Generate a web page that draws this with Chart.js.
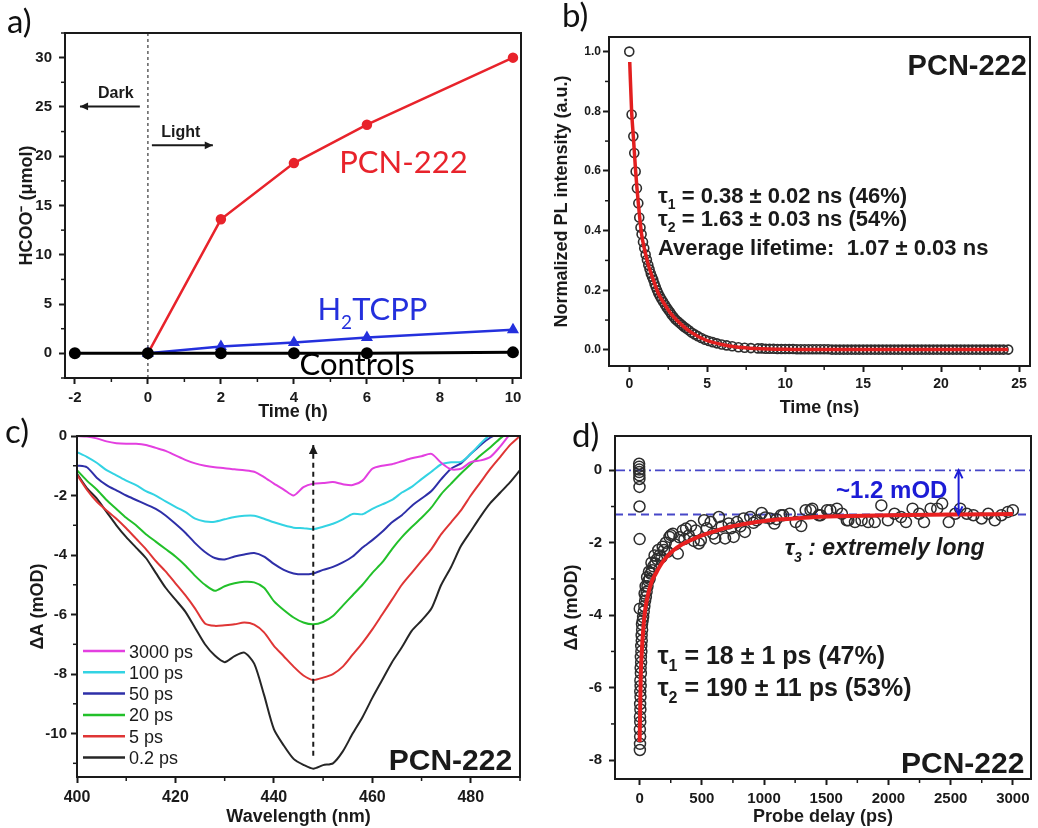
<!DOCTYPE html>
<html>
<head>
<meta charset="utf-8">
<script src="https://cdn.jsdelivr.net/npm/chart.js@4.4.1/dist/chart.umd.min.js"></script>
<style>
  html, body { margin: 0; padding: 0; background: #fff; }
  #page { position: relative; width: 1038px; height: 828px; overflow: hidden; }
  #page canvas { position: absolute; left: 0; top: 0; }
  .tag { position: absolute; font-family: Lato, "Open Sans", sans-serif; font-size: 33px; line-height: 1; color: #111; }
</style>
</head>
<body>
<div id="page">
  <canvas id="chartA" width="1038" height="828"></canvas>
  <canvas id="chartB" width="1038" height="828"></canvas>
  <canvas id="chartC" width="1038" height="828"></canvas>
  <canvas id="chartD" width="1038" height="828"></canvas>
  <div class="tag" style="left:7px;top:4px">a)</div>
  <div class="tag" style="left:562px;top:-2px">b)</div>
  <div class="tag" style="left:5px;top:414px">c)</div>
  <div class="tag" style="left:572px;top:418px">d)</div>
</div>
<script>
// ---- a) formate produced vs time
const pcnTime = [0, 2, 4, 6, 10];
const pcnFormate = [0, 13.6, 19.3, 23.2, 30.0];
const tcppTime = [0, 2, 4, 6, 10];
const tcppFormate = [0, 0.7, 1.1, 1.6, 2.4];
const controlTime = [-2, 0, 2, 4, 6, 10];
const controlFormate = [0, 0, 0, 0, 0, 0.1];
const aTicksX = [-2, 0, 2, 4, 6, 8, 10];
const aTicksY = [0, 5, 10, 15, 20, 25, 30];

// ---- b) PL decay
const plTime = [0, 0.15, 0.26, 0.32, 0.41, 0.49, 0.58, 0.64, 0.72, 0.79, 0.88, 0.96, 1.05, 1.13, 1.22,
  1.3, 1.38, 1.46, 1.54, 1.62, 1.7, 1.78, 1.86, 1.96, 2.06, 2.17, 2.29, 2.4, 2.51, 2.62, 2.72, 2.84,
  2.97, 3.1, 3.23, 3.36, 3.5, 3.66, 3.82, 4.0, 4.2, 4.4, 4.62, 4.86, 5.1, 5.35, 5.62, 5.93, 6.25, 6.6,
  7.0, 7.4, 7.8, 8.25, 8.5, 8.75, 9, 9.25, 9.5, 9.75, 10, 10.25, 10.5, 10.75, 11, 11.25, 11.5, 11.75,
  12, 12.25, 12.5, 12.75, 13, 13.25, 13.5, 13.75, 14, 14.25, 14.5, 14.75, 15, 15.25, 15.5, 15.75, 16,
  16.25, 16.5, 16.75, 17, 17.25, 17.5, 17.75, 18, 18.25, 18.5, 18.75, 19, 19.25, 19.5, 19.75, 20,
  20.25, 20.5, 20.75, 21, 21.25, 21.5, 21.75, 22, 22.25, 22.5, 22.75, 23, 23.25, 23.5, 23.75, 24, 24.3];
const plIntensity = [1.0, 0.789, 0.716, 0.66, 0.598, 0.542, 0.492, 0.444, 0.41, 0.388, 0.362, 0.341,
  0.32, 0.302, 0.285, 0.27, 0.256, 0.245, 0.235, 0.222, 0.211, 0.2, 0.19, 0.18, 0.171, 0.161, 0.151,
  0.142, 0.134, 0.126, 0.118, 0.11, 0.102, 0.096, 0.09, 0.084, 0.078, 0.072, 0.066, 0.058, 0.052,
  0.046, 0.04, 0.034, 0.03, 0.026, 0.022, 0.018, 0.015, 0.012, 0.009, 0.007, 0.006, 0.005, 0.005,
  0.004, 0.004, 0.004, 0.003, 0.003, 0.003, 0.003, 0.003, 0.002, 0.002, 0.002, 0.002, 0.002, 0.002,
  0.002, 0.002, 0.002, 0.001, 0.001, 0.001, 0.001, 0.001, 0.001, 0.001, 0.001, 0.001, 0.001, 0.001,
  0.001, 0.001, 0.001, 0.001, 0.001, 0.001, 0.001, 0.001, 0.001, 0.001, 0.001, 0.001, 0.001, 0.001,
  0.001, 0.001, 0.001, 0.001, 0.001, 0.001, 0.001, 0.001, 0.001, 0.001, 0.001, 0.001, 0.001, 0.001,
  0.001, 0.001, 0.001, 0.001, 0.001, 0.001, 0.001, 0.001, 0.001];
const plFitTime = [0.03, 0.15, 0.26, 0.41, 0.58, 0.79, 0.96, 1.22, 1.54, 1.86, 2.29, 2.72, 3.36, 4.0,
  4.86, 5.93, 7.0, 8.06, 10, 13, 17, 21, 24.3];
const plFit = [0.965, 0.8, 0.716, 0.598, 0.492, 0.388, 0.341, 0.285, 0.235, 0.19, 0.151, 0.118, 0.084,
  0.058, 0.034, 0.018, 0.009, 0.005, 0.002, 0.001, 0.001, 0.001, 0.001];
const bTicksX = [0, 5, 10, 15, 20, 25];
const bTicksY = [0, 0.2, 0.4, 0.6, 0.8, 1.0];

// ---- c) transient spectra
const wavelength = [400, 402, 404, 406, 408, 410, 412, 414, 416, 418, 420, 422, 424, 426, 428, 430,
  432, 434, 436, 438, 440, 442, 444, 446, 448, 450, 452, 454, 456, 458, 460, 462, 464, 466, 468, 470,
  472, 474, 476, 478, 480, 482, 484, 486, 488, 490];
const dA3000ps = [0, -0.02, -0.08, -0.18, -0.24, -0.26, -0.26, -0.3, -0.4, -0.5, -0.65, -0.8, -0.92,
  -1.0, -1.05, -1.08, -1.12, -1.15, -1.2, -1.38, -1.6, -1.8, -2.0, -1.72, -1.6, -1.58, -1.55, -1.62,
  -1.65, -1.5, -1.1, -1.0, -0.95, -0.85, -0.75, -0.68, -0.6, -0.9, -1.12, -1.1, -0.88, -0.82, -0.7,
  -0.35, 0.05, 0.2];
const dA100ps = [-0.54, -0.7, -0.9, -1.15, -1.32, -1.5, -1.65, -1.85, -2.0, -2.2, -2.38, -2.55, -2.78,
  -2.87, -2.88, -2.8, -2.72, -2.68, -2.68, -2.78, -2.9, -3.0, -3.08, -3.1, -3.13, -3.05, -2.95, -2.8,
  -2.62, -2.63, -2.45, -2.3, -2.15, -1.9, -1.71, -1.45, -1.2, -0.95, -0.88, -0.87, -0.6, -0.25, 0.05,
  0.2, 0.3, 0.4];
const dA50ps = [-0.99, -1.05, -1.4, -1.65, -1.83, -2.0, -2.15, -2.3, -2.45, -2.67, -2.95, -3.25, -3.6,
  -3.9, -4.1, -4.15, -4.05, -3.98, -3.93, -4.05, -4.3, -4.5, -4.62, -4.65, -4.62, -4.5, -4.4, -4.25,
  -4.05, -3.75, -3.5, -3.22, -2.9, -2.66, -2.35, -2.1, -1.85, -1.45, -1.1, -0.92, -0.6, -0.3, -0.05,
  0.1, 0.2, 0.3];
const dA20ps = [-1.15, -1.5, -1.8, -2.15, -2.45, -2.75, -3.0, -3.3, -3.55, -3.8, -4.05, -4.35, -4.7,
  -5.0, -5.2, -5.05, -4.95, -4.9, -4.92, -5.1, -5.55, -5.85, -6.1, -6.27, -6.33, -6.25, -6.05, -5.7,
  -5.35, -5.0, -4.6, -4.25, -3.8, -3.4, -3.06, -2.75, -2.4, -1.95, -1.6, -1.26, -0.95, -0.65, -0.38,
  -0.08, 0.15, 0.3];
const dA5ps = [-1.3, -1.8, -2.2, -2.5, -2.78, -3.1, -3.45, -3.8, -4.2, -4.55, -4.95, -5.35, -5.8, -6.3,
  -6.38, -6.36, -6.33, -6.27, -6.34, -6.6, -7.05, -7.4, -7.75, -8.05, -8.2, -8.12, -8.0, -7.75, -7.35,
  -6.95, -6.5, -6.0, -5.5, -5.0, -4.6, -4.2, -3.8, -3.3, -2.9, -2.5, -2.0, -1.55, -1.1, -0.7, -0.3, 0];
const dA02ps = [-1.27, -1.75, -2.1, -2.55, -3.0, -3.4, -3.75, -4.1, -4.6, -5.1, -5.5, -5.9, -6.45, -7.0,
  -7.38, -7.6, -7.4, -7.28, -7.65, -8.7, -9.85, -10.4, -10.85, -11.05, -11.18, -11.06, -11.0, -10.6,
  -10.0, -9.45, -8.8, -8.2, -7.6, -7.1, -6.55, -6.2, -5.8, -5.0, -4.4, -3.7, -3.2, -2.7, -2.25, -1.9,
  -1.55, -1.15];
const cTicksX = [400, 420, 440, 460, 480];
const cTicksY = [0, -2, -4, -6, -8, -10];

// ---- d) bleach recovery kinetics
const delayPs = [-4, -4, -3, -3, -2, -2, -1, -1, 0, 1,
  2, 3, 4, 2, 5, 3, 6, 4, 7, 5, 8, 6, 10, 8, 12, 10, 14, 13, 17, 16, 20, 19, 24, 28, 33, 38, 44, 50,
  40, 56, 48, 63, 70, 60, 80, 88, 75, 100, 110, 95, 127, 140, 120, 160, 175, 150, 185, 196, 210, 225,
  240, 251, 267, 285, 307, 320, 347, 360, 373, 395, 413, 435, 452, 476, 492, 518, 540, 571, 590, 608,
  637, 660, 687, 716, 735, 756, 783, 810, 836, 846, 889, 915, 941, 981, 1010, 1047, 1083, 1100, 1136,
  1153, 1206, 1255, 1299, 1335, 1374, 1388, 1441, 1454, 1507, 1533, 1586, 1626, 1665, 1678, 1731,
  1784, 1837, 1890, 1943, 1996, 2049, 2101, 2141, 2194, 2247, 2286, 2339, 2392, 2432, 2485, 2537,
  2577, 2630, 2683, 2749, 2802, 2855, 2908, 2960, 3000];
const deltaA = [0.18, 0.1, 0.02, -0.05, -0.14, -0.24, -0.46, -1.0, -1.9, -3.82,
  -7.72, -7.55, -7.35, -7.15, -6.95, -6.8, -6.6, -6.45, -6.25, -6.1, -5.95, -5.8, -5.6, -5.45, -5.3,
  -5.15, -5.0, -4.85, -4.7, -4.55, -4.4, -4.25, -4.15, -4.05, -3.9, -3.75, -3.6, -3.5, -3.4, -3.35,
  -3.2, -3.2, -3.05, -2.95, -3.0, -2.85, -2.8, -2.76, -2.65, -2.55, -2.57, -2.45, -2.35, -2.35, -2.4,
  -2.2, -2.11, -2.2, -2.0, -2.25, -1.84, -1.79, -1.75, -2.05, -2.3, -1.85, -1.66, -1.9, -1.61, -1.8,
  -1.54, -1.95, -1.66, -2.02, -1.93, -1.38, -1.6, -1.43, -1.75, -1.88, -1.29, -1.55, -1.88, -1.47,
  -1.6, -1.84, -1.43, -1.55, -1.33, -1.7, -1.29, -1.45, -1.38, -1.18, -1.3, -1.33, -1.47, -1.35,
  -1.24, -1.24, -1.2, -1.43, -1.54, -1.1, -1.1, -1.06, -1.24, -1.24, -1.1, -1.1, -1.06, -1.2, -1.38,
  -1.38, -1.43, -1.38, -1.43, -1.43, -0.97, -1.38, -1.2, -1.29, -1.43, -1.06, -1.2, -1.43, -1.06,
  -1.06, -0.92, -1.43, -1.2, -1.06, -1.2, -1.24, -1.33, -1.2, -1.38, -1.24, -1.15, -1.1];
const fitDelay = [0, 4.5, 9.5, 16, 22.7, 30, 44, 60, 76, 100, 130, 160, 196, 235, 275, 340, 410, 475,
  542, 630, 727, 830, 940, 1050, 1153, 1364, 1600, 2000, 2500, 3000];
const fitDeltaA = [-7.5, -6.53, -5.61, -5.1, -4.69, -4.35, -3.86, -3.55, -3.31, -3.05, -2.85, -2.66,
  -2.48, -2.33, -2.2, -2.05, -1.93, -1.83, -1.75, -1.65, -1.56, -1.49, -1.43, -1.38, -1.35, -1.3,
  -1.27, -1.24, -1.22, -1.21];
const offsetLevel = -1.22;
const dTicksX = [0, 500, 1000, 1500, 2000, 2500, 3000];
const dTicksY = [0, -2, -4, -6, -8];

const INK = "#1a1a1a";
const SANS = '"Liberation Sans", Arial, sans-serif';
const ROUND = 'Lato, "Open Sans", sans-serif';

Chart.defaults.font.family = SANS;
Chart.defaults.color = INK;

function points(xs, ys) {
  return xs.map((x, i) => ({ x: x, y: ys[i] }));
}

// box outline + minor tick marks, both
Chart.register({
  id: "frame",
  afterDraw(chart, _args, opts) {
    const { ctx, chartArea: a, scales } = chart;
    ctx.save();
    ctx.strokeStyle = INK;
    ctx.lineWidth = 2;
    ctx.strokeRect(a.left, a.top, a.right - a.left, a.bottom - a.top);
    ctx.lineWidth = 1.5;
    const minor = (scale, step, horizontal) => {
      if (!step) return;
      const major = scale.ticks.map((t) => t.value);
      for (let v = Math.ceil(scale.min / step) * step; v <= scale.max; v += step) {
        if (major.some((m) => Math.abs(m - v) < step / 10)) continue;
        const p = scale.getPixelForValue(v);
        ctx.beginPath();
        if (horizontal) {
          ctx.moveTo(p, a.bottom);
          ctx.lineTo(p, a.bottom + 4);
        } else {
          ctx.moveTo(a.left, p);
          ctx.lineTo(a.left - 4, p);
        }
        ctx.stroke();
      }
    };
    minor(scales.x, opts.minorX, true);
    minor(scales.y, opts.minorY, false);
    ctx.restore();
  },
});

function axis(o) {
  return {
    type: "linear",
    min: o.min,
    max: o.max,
    afterBuildTicks: (s) => {
      s.ticks = o.ticks.map((v) => ({ value: v }));
    },
    afterFit: (s) => {
      if (s.isHorizontal()) s.height = o.size;
      else s.width = o.size;
    },
    border: { display: false },
    grid: { drawOnChartArea: false, drawTicks: true, tickLength: 6, tickWidth: 2, tickColor: INK },
    ticks: {
      autoSkip: false,
      maxRotation: 0,
      padding: o.pad,
      color: INK,
      font: { size: o.tickSize, weight: "bold" },
      callback: o.format || ((v) => String(v)),
    },
    title: { display: true, text: o.title, padding: 0, color: INK, font: { size: o.titleSize || 18, weight: "bold" } },
  };
}

function layout(box, yW, xH) {
  return { padding: { left: box.l - yW, top: box.t, right: 1038 - box.r, bottom: 828 - box.b - xH } };
}

function baseOptions(box, yW, xH, xAxis, yAxis, minorX, minorY) {
  return {
    responsive: false,
    animation: false,
    devicePixelRatio: 1,
    layout: layout(box, yW, xH),
    scales: { x: xAxis, y: yAxis },
    plugins: { legend: { display: false }, tooltip: { enabled: false }, frame: { minorX: minorX, minorY: minorY } },
  };
}

// text with sub/superscript pieces; parts = [[text, "sub"|"sup"|""], ...], y is the baseline
function richText(ctx, parts, x, y, o) {
  const size = o.size;
  const fontFor = (p) => `${o.style || "normal"} ${o.weight || "bold"} ${p[1] ? Math.round(size * 0.62) : size}px ${o.family || SANS}`;
  let w = 0;
  parts.forEach((p) => {
    ctx.font = fontFor(p);
    w += ctx.measureText(p[0]).width;
  });
  let cx = o.align === "right" ? x - w : o.align === "center" ? x - w / 2 : x;
  ctx.fillStyle = o.color || INK;
  ctx.textAlign = "left";
  ctx.textBaseline = "alphabetic";
  parts.forEach((p) => {
    ctx.font = fontFor(p);
    const dy = p[1] === "sub" ? size * 0.28 : p[1] === "sup" ? -size * 0.42 : 0;
    ctx.fillText(p[0], cx, y + dy);
    cx += ctx.measureText(p[0]).width;
  });
}

function arrowHead(ctx, x1, y1, x2, y2, size, open) {
  const ang = Math.atan2(y2 - y1, x2 - x1);
  ctx.beginPath();
  ctx.moveTo(x2 - size * Math.cos(ang - 0.45), y2 - size * Math.sin(ang - 0.45));
  ctx.lineTo(x2, y2);
  ctx.lineTo(x2 - size * Math.cos(ang + 0.45), y2 - size * Math.sin(ang + 0.45));
  if (open) {
    ctx.stroke();
  } else {
    ctx.closePath();
    ctx.fill();
  }
}

function arrow(ctx, x1, y1, x2, y2, o) {
  ctx.save();
  ctx.strokeStyle = o.color;
  ctx.fillStyle = o.color;
  ctx.lineWidth = o.width;
  ctx.setLineDash(o.dash || []);
  ctx.beginPath();
  ctx.moveTo(x1, y1);
  ctx.lineTo(x2, y2);
  ctx.stroke();
  ctx.setLineDash([]);
  arrowHead(ctx, x1, y1, x2, y2, o.head, o.open);
  if (o.both) arrowHead(ctx, x2, y2, x1, y1, o.head, o.open);
  ctx.restore();
}

// ---------------- a)
const boxA = { l: 65, t: 33, r: 521, b: 378 };
new Chart(document.getElementById("chartA"), {
  type: "scatter",
  data: {
    datasets: [
      {
        data: points(controlTime, controlFormate), showLine: true, borderColor: "#000", borderWidth: 3,
        pointRadius: 4.5, pointBackgroundColor: "#000", pointBorderColor: "#000",
      },
      {
        data: points(pcnTime, pcnFormate), showLine: true, borderColor: "#e8232b", borderWidth: 2.5,
        pointRadius: 4, pointBackgroundColor: "#e8232b", pointBorderColor: "#e8232b",
      },
      {
        data: points(tcppTime, tcppFormate), showLine: true, borderColor: "#2430dd", borderWidth: 2.5,
        pointStyle: "triangle", pointRadius: 4.5, pointBackgroundColor: "#2430dd", pointBorderColor: "#2430dd",
      },
    ],
  },
  options: baseOptions(boxA, 49, 45,
    axis({ min: -2.27, max: 10.22, ticks: aTicksX, size: 45, pad: 5, tickSize: 15, title: "Time (h)" }),
    axis({ min: -2.5, max: 32.5, ticks: aTicksY, size: 49, pad: 7, tickSize: 15, title: "HCOO\u207B (\u03BCmol)" }),
    1, 2.5),
  plugins: [{
    id: "notesA",
    beforeDatasetsDraw(chart) {
      const { ctx, chartArea: a, scales: { x } } = chart;
      ctx.save();
      ctx.strokeStyle = "#6a6a6a";
      ctx.lineWidth = 1.6;
      ctx.setLineDash([3, 3]);
      ctx.beginPath();
      ctx.moveTo(x.getPixelForValue(0), a.top);
      ctx.lineTo(x.getPixelForValue(0), a.bottom);
      ctx.stroke();
      ctx.restore();
    },
    afterDatasetsDraw(chart) {
      const { ctx, scales: { x, y } } = chart;
      const X = (v) => x.getPixelForValue(v), Y = (v) => y.getPixelForValue(v);
      richText(ctx, [["Dark", ""]], X(-0.88), Y(25.9), { size: 16, align: "center" });
      arrow(ctx, X(-0.22), Y(25.05), X(-1.86), Y(25.05), { color: INK, width: 2, head: 9 });
      richText(ctx, [["Light", ""]], X(0.9), Y(21.9), { size: 16, align: "center" });
      arrow(ctx, X(0.11), Y(21.1), X(1.78), Y(21.1), { color: INK, width: 2, head: 9 });
      richText(ctx, [["PCN-222", ""]], X(7.0), Y(18.3), { size: 31, weight: "normal", family: ROUND, color: "#e8232b", align: "center" });
      richText(ctx, [["H", ""], ["2", "sub"], ["TCPP", ""]], X(6.15), Y(3.4), { size: 31, weight: "normal", family: ROUND, color: "#2430dd", align: "center" });
      richText(ctx, [["Controls", ""]], X(5.73), Y(-2.2), { size: 31, weight: "normal", family: ROUND, color: "#000", align: "center" });
    },
  }],
});

// ---------------- b)
const boxB = { l: 609, t: 37, r: 1030, b: 366 };
new Chart(document.getElementById("chartB"), {
  type: "scatter",
  data: {
    datasets: [
      {
        data: points(plFitTime, plFit), showLine: true, borderColor: "#e21f1f", borderWidth: 3.5,
        cubicInterpolationMode: "monotone", pointRadius: 0,
      },
      {
        data: points(plTime, plIntensity), pointRadius: 4.5, pointBorderWidth: 1.6,
        pointBorderColor: "#2d2d2d", pointBackgroundColor: "rgba(0,0,0,0)",
      },
    ],
  },
  options: baseOptions(boxB, 58, 53,
    axis({ min: -1.3, max: 25.7, ticks: bTicksX, size: 53, pad: 4, tickSize: 14, title: "Time (ns)" }),
    axis({ min: -0.054, max: 1.049, ticks: bTicksY, size: 58, pad: 2, tickSize: 12, title: "Normalized PL intensity (a.u.)", format: (v) => v.toFixed(1) }),
    2.5, 0.1),
  plugins: [{
    id: "notesB",
    afterDatasetsDraw(chart) {
      const { ctx, scales: { x, y } } = chart;
      const X = (v) => x.getPixelForValue(v), Y = (v) => y.getPixelForValue(v);
      richText(ctx, [["PCN-222", ""]], X(25.5), Y(0.923), { size: 29, align: "right" });
      richText(ctx, [["\u03C4", ""], ["1", "sub"], [" = 0.38 \u00B1 0.02 ns (46%)", ""]], X(1.84), Y(0.493), { size: 22 });
      richText(ctx, [["\u03C4", ""], ["2", "sub"], [" = 1.63 \u00B1 0.03 ns (54%)", ""]], X(1.84), Y(0.416), { size: 22 });
      richText(ctx, [["Average lifetime:  1.07 \u00B1 0.03 ns", ""]], X(1.84), Y(0.319), { size: 22 });
    },
  }],
});

// ---------------- c)
const boxC = { l: 77, t: 436, r: 520, b: 777 };
const spectra = [
  { label: "3000 ps", values: dA3000ps, color: "#e33fe0" },
  { label: "100 ps", values: dA100ps, color: "#33d3e3" },
  { label: "50 ps", values: dA50ps, color: "#2e2fa8" },
  { label: "20 ps", values: dA20ps, color: "#22c02a" },
  { label: "5 ps", values: dA5ps, color: "#df3535" },
  { label: "0.2 ps", values: dA02ps, color: "#262626" },
];
new Chart(document.getElementById("chartC"), {
  type: "scatter",
  data: {
    datasets: spectra.map((s) => ({
      label: s.label, data: points(wavelength, s.values), showLine: true,
      borderColor: s.color, borderWidth: 2, pointRadius: 0, tension: 0.25,
    })),
  },
  options: baseOptions(boxC, 50, 51,
    axis({ min: 400, max: 490, ticks: cTicksX, size: 51, pad: 5, tickSize: 16, title: "Wavelength (nm)" }),
    axis({ min: -11.46, max: 0, ticks: cTicksY, size: 50, pad: 4, tickSize: 15, title: "\u0394A (mOD)" }),
    10, 1),
  plugins: [{
    id: "notesC",
    afterDatasetsDraw(chart) {
      const { ctx, chartArea: a, scales: { x, y } } = chart;
      const X = (v) => x.getPixelForValue(v), Y = (v) => y.getPixelForValue(v);
      arrow(ctx, X(448), Y(-10.75), X(448), Y(-0.3), { color: INK, width: 2, head: 10, dash: [5, 4] });
      chart.data.datasets.forEach((ds, i) => {
        const rowY = a.top + 215 + i * 21.3;
        ctx.save();
        ctx.strokeStyle = ds.borderColor;
        ctx.lineWidth = 2.5;
        ctx.beginPath();
        ctx.moveTo(a.left + 6, rowY);
        ctx.lineTo(a.left + 48, rowY);
        ctx.stroke();
        ctx.restore();
        richText(ctx, [[ds.label, ""]], a.left + 52, rowY + 6.5, { size: 18, weight: "normal" });
      });
      richText(ctx, [["PCN-222", ""]], X(488.4), Y(-11.23), { size: 30, align: "right" });
    },
  }],
});

// ---------------- d)
const boxD = { l: 615, t: 436, r: 1037, b: 779 };
new Chart(document.getElementById("chartD"), {
  type: "scatter",
  data: {
    datasets: [
      {
        data: points(fitDelay, fitDeltaA), showLine: true, borderColor: "#e82020", borderWidth: 4,
        cubicInterpolationMode: "monotone", pointRadius: 0,
      },
      {
        data: points(delayPs, deltaA), pointRadius: 5.5, pointBorderWidth: 1.5,
        pointBorderColor: "#2d2d2d", pointBackgroundColor: "rgba(0,0,0,0)",
      },
    ],
  },
  options: baseOptions(boxD, 54, 49,
    axis({ min: -198, max: 3146, ticks: dTicksX, size: 49, pad: 5, tickSize: 15, title: "Probe delay (ps)" }),
    axis({ min: -8.52, max: 0.946, ticks: dTicksY, size: 54, pad: 7, tickSize: 15, title: "\u0394A (mOD)" }),
    250, 1),
  plugins: [{
    id: "notesD",
    beforeDatasetsDraw(chart) {
      const { ctx, chartArea: a, scales: { y } } = chart;
      ctx.save();
      ctx.strokeStyle = "#4747c8";
      ctx.lineWidth = 1.8;
      ctx.setLineDash([10, 4, 2, 4]);
      ctx.beginPath();
      ctx.moveTo(a.left, y.getPixelForValue(0));
      ctx.lineTo(a.right, y.getPixelForValue(0));
      ctx.stroke();
      ctx.setLineDash([8, 5]);
      ctx.beginPath();
      ctx.moveTo(a.left, y.getPixelForValue(offsetLevel));
      ctx.lineTo(a.right, y.getPixelForValue(offsetLevel));
      ctx.stroke();
      ctx.restore();
    },
    afterDatasetsDraw(chart) {
      const { ctx, scales: { x, y } } = chart;
      const X = (v) => x.getPixelForValue(v), Y = (v) => y.getPixelForValue(v);
      arrow(ctx, X(2564), Y(0), X(2564), Y(offsetLevel), { color: "#1c1cd6", width: 2, head: 9, open: true, both: true });
      richText(ctx, [["~1.2 mOD", ""]], X(2474), Y(-0.77), { size: 24, color: "#1c1cd6", align: "right" });
      richText(ctx, [["\u03C4", ""], ["3", "sub"], [" : extremely long", ""]], X(1166), Y(-2.34), { size: 23, style: "italic" });
      richText(ctx, [["\u03C4", ""], ["1", "sub"], [" = 18 \u00B1 1 ps (47%)", ""]], X(143), Y(-5.35), { size: 25 });
      richText(ctx, [["\u03C4", ""], ["2", "sub"], [" = 190 \u00B1 11 ps (53%)", ""]], X(143), Y(-6.23), { size: 25 });
      richText(ctx, [["PCN-222", ""]], X(3093), Y(-8.36), { size: 30, align: "right" });
    },
  }],
});
</script>
</body>
</html>
